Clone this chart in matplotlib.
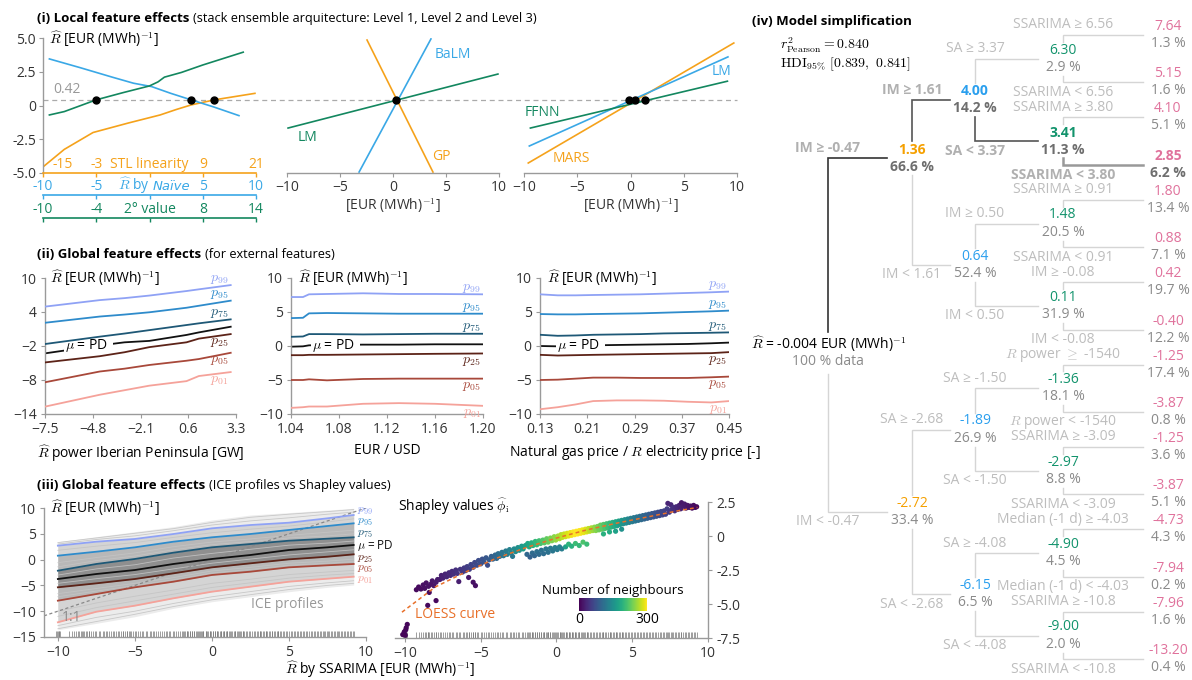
import numpy as np
import matplotlib.pyplot as plt
import matplotlib.transforms as mtransforms
from matplotlib.text import Annotation
from matplotlib.cm import ScalarMappable
from matplotlib.colors import Normalize

plt.rcParams["font.family"] = ["Open Sans", "DejaVu Sans"]
plt.rcParams["mathtext.fontset"] = "cm"
plt.rcParams["font.size"] = 9.5

W, H = 1192, 680
ORANGE, BLUE, GREEN, PINK = "#F5A21B", "#3AA8E6", "#13875F", "#E0729C"
AXC, TXT, LIGHT = "#9a9a9a", "#333333", "#bdbdbd"
UNIT = "$\\widehat{R}$ [EUR (MWh)$^{-1}$]"

# ---------------- (i) local feature effects
base_pred = 0.42
scale_ticks = [-10, -5, 0, 5, 10]
stl_labels = ["-15", "-3", "STL linearity", "9", "21"]
naive_labels = ["-10", "-5", "", "5", "10"]
second_labels = ["-10", "-4", "2° value", "8", "14"]

stl_x = [-10, -8, -5.3, -2.0, 1.0, 2.5, 3.9, 6.1, 9.9]
stl_y = [-4.55, -3.25, -2.0, -1.3, -0.7, -0.3, 0.04, 0.42, 0.9]
naive_x = [-9.4, -6.5, -3.5, -1.5, 0.2, 2.0, 3.9, 6.0, 8.4]
naive_y = [3.45, 2.8, 2.1, 1.65, 1.4, 0.9, 0.42, -0.1, -0.75]
second_x = [-9.4, -8.0, -5.0, -2.5, 0.0, 0.8, 1.4, 3.0, 5.0, 7.0, 8.8]
second_y = [-0.7, -0.45, 0.42, 0.95, 1.45, 1.75, 2.1, 2.45, 3.0, 3.5, 3.95]
level1_cross_x = [-5.0, 3.9, 6.06]

lm2_x, lm2_y = [-9.9, 9.9], [-1.67, 2.33]
balm_x, balm_y = [-3.2, 3.58], [-4.93, 4.93]
gp_x, gp_y = [-2.45, 3.77], [4.85, -4.93]
level2_cross_x = [0.28]

mars_x, mars_y = [-9.6, 9.7], [-4.26, 4.63]
lm3_x, lm3_y = [-9.5, 9.15], [-3.0, 3.6]
ffnn_x, ffnn_y = [-9.4, 9.1], [-1.67, 1.8]
level3_cross_x = [-0.1, 0.45, 1.4]

# ---------------- (ii) global feature effects (rows: p99, p95, p75, p25, p05, p01)
pct_labels = ["$p_{99}$", "$p_{95}$", "$p_{75}$", "$p_{25}$", "$p_{05}$", "$p_{01}$"]
pct_colors = ["#8FA2F5", "#2E8BCB", "#1E5876", "#5C2318", "#A8483A", "#F5A29A"]

iberia_x = [-7.5, -4.4, -3.0, -1.6, 0.5, 1.2, 3.0]
iberia_pct = [
    [4.95, 6.1, 6.45, 6.9, 7.7, 8.0, 8.75],
    [2.1, 3.2, 3.55, 3.95, 4.75, 5.1, 6.0],
    [-1.65, -0.35, 0.2, 0.8, 1.7, 2.0, 2.7],
    [-4.9, -3.8, -3.1, -2.2, -1.35, -0.7, 0.1],
    [-8.4, -6.5, -6.0, -5.35, -4.6, -4.3, -3.2],
    [-12.7, -10.6, -9.8, -9.0, -8.2, -7.3, -6.6],
]
iberia_mu = [-3.3, -1.9, -1.35, -1.1, -0.05, 0.4, 1.4]

fx_x = [1.04, 1.05, 1.055, 1.07, 1.10, 1.13, 1.16, 1.20]
fx_pct = [
    [7.2, 7.2, 7.6, 7.65, 7.75, 7.65, 7.65, 7.6],
    [4.1, 4.15, 4.8, 4.85, 4.8, 4.75, 4.75, 4.75],
    [1.35, 1.4, 1.75, 1.75, 1.7, 1.75, 1.8, 1.8],
    [-1.35, -1.35, -1.3, -1.3, -1.25, -1.2, -1.15, -1.1],
    [-5.0, -5.0, -4.9, -5.05, -4.85, -4.8, -4.8, -4.8],
    [-9.1, -9.0, -8.9, -8.9, -8.5, -8.4, -8.5, -8.8],
]
fx_mu = [-0.1, -0.05, 0.1, 0.15, 0.2, 0.2, 0.25, 0.25]

gas_x = [0.13, 0.16, 0.19, 0.22, 0.26, 0.30, 0.34, 0.38, 0.42, 0.45]
gas_pct = [
    [7.6, 7.45, 7.45, 7.5, 7.55, 7.6, 7.7, 7.8, 7.9, 8.0],
    [4.7, 4.65, 4.65, 4.7, 4.75, 4.8, 4.9, 5.0, 5.1, 5.2],
    [1.65, 1.5, 1.55, 1.65, 1.7, 1.75, 1.85, 1.9, 1.95, 2.0],
    [-1.3, -1.4, -1.35, -1.3, -1.25, -1.2, -1.15, -1.1, -1.05, -0.9],
    [-5.0, -4.95, -4.8, -4.65, -4.65, -4.7, -4.7, -4.7, -4.6, -4.5],
    [-9.3, -9.0, -8.6, -8.1, -8.0, -8.0, -8.05, -8.2, -8.3, -8.1],
]
gas_mu = [0.0, -0.05, 0.0, 0.1, 0.15, 0.2, 0.25, 0.3, 0.4, 0.5]

# ---------------- (iii) ICE profiles vs Shapley values
ssarima_x = [-10, -7.5, -5, -2.5, 0, 2.5, 5, 7.5, 9.2]
ice_hi = [3.47, 4.44, 5.41, 6.38, 7.67, 8.64, 9.1, 9.6, 9.94]
ice_lo = [-13.6, -12.35, -11.06, -9.44, -8.16, -7.19, -6.22, -5.37, -4.92]
ice_lines = [
    [3.3, 4.2, 5.1, 6.0, 7.2, 8.2, 8.8, 9.3, 9.7],
    [3.0, 3.9, 4.6, 5.6, 6.7, 7.5, 8.1, 8.8, 9.2],
    [1.8, 2.6, 3.3, 4.3, 5.2, 5.9, 6.5, 7.3, 7.9],
    [-0.6, 0.4, 1.3, 2.5, 3.4, 4.0, 4.7, 5.3, 5.7],
    [-1.4, -0.2, 0.7, 1.9, 2.9, 3.5, 4.2, 4.6, 5.0],
    [-3.0, -1.8, -1.0, 0.3, 1.2, 2.0, 2.8, 3.2, 3.6],
    [-4.6, -3.7, -2.9, -1.8, -0.7, 0.1, 0.9, 1.5, 1.9],
    [-6.6, -5.6, -4.6, -3.5, -2.2, -1.5, -0.7, -0.3, 0.1],
    [-7.2, -6.1, -5.0, -3.9, -2.6, -1.9, -1.1, -0.7, -0.4],
    [-10.0, -8.4, -7.1, -5.9, -4.6, -3.8, -2.9, -2.4, -2.1],
    [-11.0, -9.3, -8.0, -6.7, -5.4, -4.5, -3.6, -3.0, -2.7],
    [-12.8, -11.2, -10.0, -8.5, -7.2, -6.2, -5.2, -4.5, -4.1],
    [-13.4, -12.0, -10.6, -9.1, -7.8, -6.8, -5.8, -5.0, -4.6],
]
ice_pct = [
    [2.7, 3.47, 4.0, 4.96, 6.06, 6.7, 7.15, 8.0, 8.64],
    [0.76, 1.53, 2.38, 3.47, 4.32, 4.96, 5.74, 6.51, 7.03],
    [-2.15, -0.85, 0.12, 1.34, 2.38, 3.02, 3.66, 4.05, 4.32],
    [-5.37, -4.6, -3.76, -2.66, -1.5, -0.72, 0.05, 0.56, 1.02],
    [-7.96, -6.67, -5.37, -4.28, -2.98, -2.34, -1.5, -1.1, -0.85],
    [-12.15, -10.1, -8.93, -7.5, -6.22, -5.25, -4.28, -3.7, -3.31],
]
ice_mu = [-3.76, -2.79, -2.02, -0.85, 0.12, 0.89, 1.86, 2.38, 2.83]

loess_x = [-10.2, -8, -6, -4, -2, 0, 2, 4, 6, 8, 9.3]
loess_y = [-5.6, -3.75, -2.65, -1.65, -0.85, -0.15, 0.45, 0.95, 1.4, 1.85, 2.1]

shap_x = [
    -10.15, -10.05, -9.98, -9.92, -9.85, -9.95, -8.5, -7.95, -8.4,
    -9.25, -9.1, -8.95, -8.8, -8.7, -8.6, -8.45, -8.3, -8.2, -8.1, -7.95, -7.85,
    -7.7, -7.6, -7.5, -7.35, -7.25, -7.1, -7.0, -6.9, -6.8, -6.65, -6.55, -6.45, -6.35, -6.2, -6.1, -6.0,
    -5.5, -5.35, -5.8,
    -5.9, -5.75, -5.65, -5.5, -5.4, -5.25, -5.15, -5.0, -4.9, -4.8, -4.65, -4.55, -4.45, -4.3, -4.2, -4.05, -3.95,
    -3.85, -3.75, -3.6, -3.5, -3.35, -3.25, -3.1, -3.0, -2.9, -2.8, -2.7, -2.55, -2.45, -2.3, -2.2, -2.05,
    -1.95, -1.75, -1.6, -1.45, -1.3, -1.15, -1.0, -0.85, -0.7, -0.55, -0.4, -0.25, -0.1, 0.05, 0.2, 0.35,
    -1.9, -1.8, -1.65, -1.55, -1.4, -1.3, -1.15, -1.05, -0.9, -0.8, -0.65, -0.55, -0.4, -0.3, -0.15, -0.05,
    0.1, 0.2, 0.3, 0.4, 0.5, 0.6, 0.7, 0.8, 0.9, 1.0, 1.1, 1.2, 1.3, 1.4, 1.5, 1.6, 1.7, 1.8, 1.9, 2.0,
    2.1, 2.2, 2.3, 2.4,
    0.6, 0.8, 1.0, 1.25, 1.5, 1.75, 2.0,
    2.5, 2.6, 2.7, 2.8, 2.9, 3.0, 3.1, 3.2, 3.3, 3.4, 3.5, 3.6, 3.7, 3.8, 3.9, 4.0, 4.1, 4.2, 4.3, 4.4,
    4.5, 4.6, 4.7, 4.8, 4.9, 5.0,
    3.1, 3.5, 3.9, 4.3,
    5.1, 5.2, 5.3, 5.4, 5.5, 5.6, 5.7, 5.8, 5.9, 6.0, 6.1, 6.2, 6.3, 6.4, 6.5, 6.6, 6.7, 6.8, 6.9, 7.0,
    7.1, 7.2, 7.3, 7.35, 7.45, 7.55, 7.6, 7.7, 7.8, 7.9, 8.0, 8.1, 8.2, 8.25, 8.35, 8.45, 8.55, 8.65,
    8.75, 8.85, 8.95, 9.05, 9.15, 9.25,
]
shap_y = [
    -7.25, -7.05, -7.3, -6.75, -6.5, -6.9, -5.1, -4.75, -4.15,
    -3.95, -3.75, -3.9, -3.6, -3.85, -3.45, -3.7, -3.55, -3.3, -3.65, -3.4, -3.2,
    -3.2, -2.9, -3.1, -2.8, -3.0, -2.7, -2.9, -2.6, -2.8, -2.5, -2.75, -3.35, -2.45, -2.65, -2.35, -2.55,
    -3.4, -3.65, -3.05,
    -2.25, -2.45, -2.1, -2.3, -1.95, -2.15, -1.8, -2.05, -1.7, -1.9, -1.6, -2.15, -1.75, -1.5, -1.7, -1.4, -1.65,
    -1.3, -1.5, -1.2, -1.45, -1.1, -1.35, -1.0, -1.25, -1.5, -0.95, -1.15, -0.85, -1.05, -0.75, -0.95, -0.7,
    -1.35, -1.55, -1.25, -1.45, -1.15, -1.35, -1.05, -1.3, -0.95, -1.2, -0.9, -1.1, -0.85, -1.0, -0.8, -0.95,
    -0.55, -0.8, -0.5, -0.7, -0.4, -0.65, -0.35, -0.55, -0.3, -0.5, -0.2, -0.45, -0.15, -0.35, -0.05, -0.3,
    0.0, -0.2, 0.1, -0.1, 0.15, -0.05, 0.2, 0.0, 0.25, 0.05, 0.3, 0.1, 0.35, 0.15, 0.4, 0.2, 0.45, 0.25, 0.5, 0.3,
    0.55, 0.35, 0.6, 0.4,
    -0.8, -0.6, -0.75, -0.55, -0.7, -0.45, -0.6,
    0.65, 0.4, 0.7, 0.45, 0.8, 0.5, 0.85, 0.55, 0.9, 0.6, 0.95, 0.65, 1.0, 0.7, 1.05, 0.75, 1.1, 0.85, 1.15, 0.9,
    1.2, 0.95, 1.25, 1.0, 1.3, 1.05,
    0.15, 0.3, 0.35, 0.5,
    1.35, 1.1, 1.4, 1.15, 1.45, 1.2, 1.5, 1.25, 1.55, 1.3, 1.6, 1.35, 1.65, 1.4, 1.7, 1.45, 1.75, 1.5, 1.8, 1.55,
    1.85, 1.6, 2.0, 2.4, 1.75, 2.3, 1.95, 2.1, 1.85, 2.15, 1.95, 2.25, 2.0, 2.45, 2.2, 2.35, 2.05, 2.25,
    2.1, 2.2, 2.05, 2.25, 2.1, 2.15,
]
shap_n = [
    3, 4, 3, 5, 5, 4, 6, 6, 8,
    8, 9, 10, 12, 12, 14, 15, 16, 18, 17, 20, 22,
    24, 26, 28, 30, 32, 35, 36, 38, 40, 42, 44, 25, 46, 48, 50, 52,
    14, 12, 18,
    55, 57, 60, 62, 64, 67, 70, 72, 76, 78, 82, 70, 86, 90, 94, 98, 100,
    106, 110, 115, 118, 122, 126, 132, 135, 120, 142, 145, 150, 155, 162, 165, 170,
    100, 92, 104, 98, 108, 104, 112, 106, 118, 112, 122, 118, 126, 122, 130, 126,
    178, 182, 188, 192, 198, 202, 208, 212, 218, 222, 228, 232, 238, 242, 248, 252,
    258, 262, 266, 270, 274, 278, 282, 286, 290, 294, 297, 300, 300, 300, 298, 296, 292, 290, 285, 280,
    274, 268, 262, 256,
    170, 195, 190, 205, 200, 215, 205,
    250, 244, 240, 234, 230, 224, 220, 214, 210, 204, 200, 194, 190, 184, 180, 174, 170, 164, 160, 154,
    150, 144, 140, 134, 130, 126,
    190, 185, 170, 150,
    122, 118, 115, 112, 108, 105, 100, 98, 95, 92, 88, 85, 82, 80, 76, 74, 70, 68, 65, 62,
    60, 57, 54, 30, 50, 32, 46, 42, 40, 36, 33, 30, 28, 18, 24, 20, 22, 17,
    16, 14, 12, 10, 8, 6,
]

# ---------------- (iv) surrogate tree
tree_parent = [-1, 0, 0, 1, 1, 2, 2, 3, 3, 4, 4, 5, 5, 6, 6,
               7, 7, 8, 8, 9, 9, 10, 10, 11, 11, 12, 12, 13, 13, 14, 14]
tree_value = [-0.004, 1.36, -2.72, 4.00, 0.64, -1.89, -6.15, 6.30, 3.41, 1.48, 0.11, -1.36, -2.97, -4.90, -9.00,
              7.64, 5.15, 4.10, 2.85, 1.80, 0.88, 0.42, -0.40, -1.25, -3.87, -1.25, -3.87, -4.73, -7.94, -7.96, -13.20]
tree_share = [100, 66.6, 33.4, 14.2, 52.4, 26.9, 6.5, 2.9, 11.3, 20.5, 31.9, 18.1, 8.8, 4.5, 2.0,
              1.3, 1.6, 5.1, 6.2, 13.4, 7.1, 19.7, 12.2, 17.4, 0.8, 3.6, 5.1, 4.3, 0.2, 1.6, 0.4]
tree_rule = ["", "IM ≥ -0.47", "IM < -0.47", "IM ≥ 1.61", "IM < 1.61", "SA ≥ -2.68", "SA < -2.68",
             "SA ≥ 3.37", "SA < 3.37", "IM ≥ 0.50", "IM < 0.50", "SA ≥ -1.50", "SA < -1.50",
             "SA ≥ -4.08", "SA < -4.08",
             "SSARIMA ≥ 6.56", "SSARIMA < 6.56", "SSARIMA ≥ 3.80", "SSARIMA < 3.80",
             "SSARIMA ≥ 0.91", "SSARIMA < 0.91", "IM ≥ -0.08", "IM < -0.08",
             "$R$ power $\\geq$ -1540", "$R$ power < -1540", "SSARIMA ≥ -3.09", "SSARIMA < -3.09",
             "Median (-1 d) ≥ -4.03", "Median (-1 d) < -4.03", "SSARIMA ≥ -10.8", "SSARIMA < -10.8"]
tree_path = [0, 1, 3, 8, 18]
tree_r2 = 0.840
tree_hdi = (0.839, 0.841)


def px_axes(fig, x0, y0, x1, y1):
    return fig.add_axes([x0 / W, 1 - y1 / H, (x1 - x0) / W, (y1 - y0) / H])


def style_axes(ax, left=True, bottom=True, right=False):
    for side in ["top", "right", "left", "bottom"]:
        ax.spines[side].set_color(AXC)
        ax.spines[side].set_linewidth(1.0)
    ax.spines["top"].set_visible(False)
    ax.spines["right"].set_visible(right)
    ax.spines["left"].set_visible(left)
    ax.spines["bottom"].set_visible(bottom)
    ax.tick_params(length=3, width=0.8, color=AXC, labelcolor=TXT, labelsize=10, pad=2)
    ax.patch.set_visible(False)
    if not left and not right:
        ax.set_yticks([])


def panel_title(fig, x, y, bold, rest=""):
    t = fig.text(x / W, 1 - y / H, bold, weight="bold", fontsize=9.5, va="bottom", ha="left")
    if rest:
        fig.add_artist(Annotation(rest, xy=(1, 0), xycoords=t, xytext=(4, 0),
                                  textcoords="offset pixels", va="bottom", ha="left", fontsize=9.2))


def draw_percentiles(ax, x, rows, mu, mu_pos):
    for row, col, lab, up in zip(rows, pct_colors, pct_labels, [1, 1, 1, 0, 0, 0]):
        ax.plot(x, row, color=col, lw=1.3, zorder=4)
        ax.annotate(lab, (x[-1], row[-1]), xytext=(-2, 7 if up else -7), textcoords="offset pixels",
                    ha="right", va="center", color=col, fontsize=10)
    ax.plot(x, mu, color="#111111", lw=1.3, zorder=2)
    ax.text(mu_pos[0], mu_pos[1], "$\\mu$ = PD  ", transform=ax.transAxes, va="center", ha="left",
            fontsize=10, zorder=3, bbox=dict(fc="white", ec="none", pad=0.6))
    ax.text(mu_pos[2], 1.0, UNIT, transform=ax.transAxes, va="center", ha="left", fontsize=10)


fig = plt.figure(figsize=(W / 100, H / 100), dpi=100)

# ======================= (i)
panel_title(fig, 37, 25, "(i) Local feature effects",
            "(stack ensemble arquitecture: Level 1, Level 2 and Level 3)")

ax1 = px_axes(fig, 43, 38, 256, 173)
ax2 = px_axes(fig, 287, 38, 499, 173)
ax3 = px_axes(fig, 524, 38, 737, 173)
for ax in (ax1, ax2, ax3):
    ax.set_xlim(-10, 10)
    ax.set_ylim(-5, 5)
style_axes(ax1)
ax1.spines["bottom"].set_color(ORANGE)
ax1.spines["bottom"].set_linewidth(1.2)
ax1.set_xticks(scale_ticks)
ax1.tick_params(axis="x", colors=ORANGE, labelbottom=False, width=1)
ax1.set_yticks([-5, -2.5, 0, 2.5, 5])
ax1.set_yticklabels(["-5.0", "-2.5", "0", "2.5", "5.0"])
ax1.text(0.028, 0.99, UNIT, transform=ax1.transAxes, va="center", ha="left", fontsize=10)

bl = mtransforms.blended_transform_factory(fig.transFigure, ax1.transData)
ax1.plot([43 / W, 737 / W], [base_pred, base_pred], transform=bl, color="#aaaaaa",
         lw=0.9, ls=(0, (4, 3)), clip_on=False, zorder=1)
ax1.annotate(f"{base_pred:.2f}", (-10, base_pred), xytext=(10, 3), textcoords="offset pixels",
             va="bottom", ha="left", color="#999999", fontsize=10)

ax1.plot(stl_x, stl_y, color=ORANGE, lw=1.2)
ax1.plot(naive_x, naive_y, color=BLUE, lw=1.2)
ax1.plot(second_x, second_y, color=GREEN, lw=1.2)
ax1.plot(level1_cross_x, [base_pred] * len(level1_cross_x), "o", color="black", ms=5, zorder=5)

trans1 = mtransforms.blended_transform_factory(ax1.transData, ax1.transAxes)
naive_mid = None
for yf, col, labels in [(0.0, ORANGE, stl_labels), (-0.163, BLUE, naive_labels),
                        (-0.333, GREEN, second_labels)]:
    if yf != 0.0:
        ax1.plot([scale_ticks[0], scale_ticks[-1]], [yf, yf], color=col, lw=1.2,
                 transform=trans1, clip_on=False)
        ax1.plot(scale_ticks, [yf] * len(scale_ticks), ls="none", marker=3, ms=3, mew=1,
                 color=col, transform=trans1, clip_on=False)
    for i, (xt, lab) in enumerate(zip(scale_ticks, labels)):
        dx = 20 if (col == ORANGE and i == 0) else 0
        ax1.annotate(lab, (xt, yf), xycoords=trans1, xytext=(dx, 5), textcoords="offset pixels",
                     ha="center", va="baseline", color=col, fontsize=10, annotation_clip=False)
    if col == BLUE:
        naive_mid = ax1.annotate("$\\widehat{R}$ by", (scale_ticks[2], yf), xycoords=trans1,
                                 xytext=(-32, 5), textcoords="offset pixels", ha="left",
                                 va="baseline", color=col, fontsize=10, annotation_clip=False)

for ax in (ax2, ax3):
    style_axes(ax, left=False)
    ax.set_xticks(scale_ticks)
    ax.set_xlabel("[EUR (MWh)$^{-1}$]", fontsize=10, labelpad=1, color=TXT)

ax2.plot(lm2_x, lm2_y, color=GREEN, lw=1.2)
ax2.plot(balm_x, balm_y, color=BLUE, lw=1.2)
ax2.plot(gp_x, gp_y, color=ORANGE, lw=1.2)
ax2.plot(level2_cross_x, [base_pred], "o", color="black", ms=5, zorder=5)
ax2.text(3.9, 3.75, "BaLM", color=BLUE, fontsize=10, va="center")
ax2.text(-9.0, -2.35, "LM", color=GREEN, fontsize=10, va="center")
ax2.text(3.7, -3.8, "GP", color=ORANGE, fontsize=10, va="center")

ax3.plot(mars_x, mars_y, color=ORANGE, lw=1.2)
ax3.plot(lm3_x, lm3_y, color=BLUE, lw=1.2)
ax3.plot(ffnn_x, ffnn_y, color=GREEN, lw=1.2)
ax3.plot(level3_cross_x, [base_pred] * len(level3_cross_x), "o", color="black", ms=5, zorder=5)
ax3.text(7.6, 2.5, "LM", color=BLUE, fontsize=10, va="center")
ax3.text(-9.9, -0.55, "FFNN", color=GREEN, fontsize=10, va="center")
ax3.text(-7.3, -3.9, "MARS", color=ORANGE, fontsize=10, va="center")

# ======================= (ii)
panel_title(fig, 37, 261, "(ii) Global feature effects", "(for external features)")
ax4 = px_axes(fig, 45, 278, 236, 414)
ax5 = px_axes(fig, 291, 278, 483, 414)
ax6 = px_axes(fig, 540, 278, 729, 414)
for ax in (ax4, ax5, ax6):
    style_axes(ax)
    ax.tick_params(pad=3)

ax4.set_xlim(-7.5, 3.3)
ax4.set_ylim(-14, 10)
ax4.set_xticks([-7.5, -4.8, -2.1, 0.6, 3.3])
ax4.set_yticks([-14, -8, -2, 4, 10])
ax4.set_xlabel("$\\widehat{R}$ power Iberian Peninsula [GW]", fontsize=10, labelpad=4)
draw_percentiles(ax4, iberia_x, iberia_pct, iberia_mu, (0.105, 0.5, 0.026))

ax5.set_xlim(1.04, 1.20)
ax5.set_ylim(-10, 10)
ax5.set_xticks([1.04, 1.08, 1.12, 1.16, 1.20])
ax5.set_xticklabels(["1.04", "1.08", "1.12", "1.16", "1.20"])
ax5.set_yticks([-10, -5, 0, 5, 10])
ax5.set_xlabel("EUR / USD", fontsize=10, labelpad=4)
draw_percentiles(ax5, fx_x, fx_pct, fx_mu, (0.11, 0.507, 0.036))

ax6.set_xlim(0.13, 0.45)
ax6.set_ylim(-10, 10)
ax6.set_xticks([0.13, 0.21, 0.29, 0.37, 0.45])
ax6.set_yticks([-10, -5, 0, 5, 10])
ax6.set_xlabel("Natural gas price / $R$ electricity price [-]", fontsize=10, labelpad=4)
draw_percentiles(ax6, gas_x, gas_pct, gas_mu, (0.09, 0.507, 0.037))

# ======================= (iii)
panel_title(fig, 37, 492, "(iii) Global feature effects", "(ICE profiles vs Shapley values)")
ax7 = px_axes(fig, 44, 508, 366, 637)
ax8 = px_axes(fig, 395, 502, 708, 638)
style_axes(ax7)
ax7.set_xlim(-10.9, 10)
ax7.set_ylim(-15, 10)
ax7.set_xticks([-10, -5, 0, 5, 10])
ax7.set_yticks([-15, -10, -5, 0, 5, 10])
ax7.tick_params(pad=3)
for lo, hi, col in [(ice_lo, ice_hi, "#ececec"), (ice_pct[5], ice_pct[0], "#d4d4d4"),
                    (ice_pct[4], ice_pct[1], "#b8b8b8"), (ice_pct[3], ice_pct[2], "#8f8f8f")]:
    ax7.fill_between(ssarima_x, lo, hi, color=col, lw=0, zorder=1)
for line in ice_lines:
    ax7.plot(ssarima_x, line, color="#c4c4c4", lw=0.6, alpha=0.9, zorder=1.5)
ax7.axline((0, 0), slope=1, color="#888888", lw=0.9, ls=(0, (2.5, 2)), zorder=2)
label_dy = [5, 2, 4, -4, -5, -3]
for row, col, lab, dy in zip(ice_pct, pct_colors, pct_labels, label_dy):
    ax7.plot(ssarima_x, row, color=col, lw=1.3, zorder=4)
    ax7.annotate(lab, (ssarima_x[-1], row[-1]), xytext=(3, dy), textcoords="offset pixels",
                 ha="left", va="center", color=col, fontsize=8.5, annotation_clip=False)
ax7.plot(ssarima_x, ice_mu, color="#111111", lw=1.3, zorder=4)
ax7.annotate("$\\mu$ = PD", (ssarima_x[-1], ice_mu[-1]), xytext=(3, -1), textcoords="offset pixels",
             ha="left", va="center", color="#111111", fontsize=8.5, annotation_clip=False)
ax7.vlines(shap_x, 0, 0.045, transform=ax7.get_xaxis_transform(), color="#777777", lw=0.5)
ax7.text(0.019, 1.0, UNIT, transform=ax7.transAxes, va="center", ha="left", fontsize=10)
ax7.text(0.755, 0.25, "ICE profiles", transform=ax7.transAxes, ha="center", va="center",
         color="#999999", fontsize=10, zorder=5)
ax7.text(0.056, 0.155, "1:1", transform=ax7.transAxes, ha="left", va="center",
         color="#8a8a8a", fontsize=10, zorder=5)

style_axes(ax8, left=False, right=True)
ax8.yaxis.tick_right()
ax8.set_xlim(-10.66, 10)
ax8.set_ylim(-7.5, 2.5)
ax8.set_xticks([-10, -5, 0, 5, 10])
ax8.set_yticks([-7.5, -5, -2.5, 0, 2.5])
ax8.set_yticklabels(["-7.5", "-5.0", "-2.5", "0", "2.5"])
ax8.tick_params(pad=3)
ax8.scatter(shap_x, shap_y, c=shap_n, cmap="viridis", vmin=0, vmax=300, s=14, lw=0,
            zorder=3, clip_on=False)
ax8.plot(loess_x, loess_y, color="#E8702A", lw=1.1, ls=(0, (2.5, 2)), zorder=4)
ax8.vlines(shap_x, 0, 0.045, transform=ax8.get_xaxis_transform(), color="#777777", lw=0.5)
ax8.text(0.01, 0.963, "Shapley values $\\widehat{\\phi}_{\\rm i}$", transform=ax8.transAxes,
         ha="left", va="center", fontsize=10)
ax8.text(0.064, 0.176, "LOESS curve", transform=ax8.transAxes, ha="left", va="center",
         color="#E8702A", fontsize=10)
fig.text(380 / W, 1 - 670 / H, "$\\widehat{R}$ by SSARIMA [EUR (MWh)$^{-1}$]", ha="center",
         va="center", fontsize=10)

cax = px_axes(fig, 579, 598, 647, 611)
cb = fig.colorbar(ScalarMappable(Normalize(0, 300), "viridis"), cax=cax, orientation="horizontal")
cb.outline.set_visible(False)
cb.set_ticks([0, 300])
cax.tick_params(length=0, labelsize=10, pad=1)
cax.set_title("Number of neighbours", fontsize=9.5, pad=3)

# ======================= (iv)
panel_title(fig, 752, 28, "(iv) Model simplification")
axt = px_axes(fig, 745, 0, 1192, 680)
axt.set_xlim(745, 1192)
axt.set_ylim(680, 0)
axt.axis("off")
axt.text(780, 45, "$r^2_{\\mathrm{Pearson}} = %.3f$" % tree_r2, ha="left", va="center", fontsize=10)
axt.text(780, 64, "$\\mathrm{HDI}_{95\\%%}\\ [%.3f,\\ %.3f]$" % tree_hdi, ha="left", va="center",
         fontsize=10)

COL_X = [828, 912, 975, 1063, 1168]
LEAF_TOP, PAIR_STEP, SIB_STEP = 35, 82.4, 47.4
n_nodes = len(tree_parent)
depth = [0] * n_nodes
for i in range(1, n_nodes):
    depth[i] = depth[tree_parent[i]] + 1
children = {i: [j for j in range(n_nodes) if tree_parent[j] == i] for i in range(n_nodes)}
leaves = [i for i in range(n_nodes) if not children[i]]
ny = {}
for k, i in enumerate(leaves):
    ny[i] = LEAF_TOP + (k // 2) * PAIR_STEP + (k % 2) * SIB_STEP
for i in reversed(range(n_nodes)):
    if children[i]:
        ny[i] = np.mean([ny[c] for c in children[i]])
ny[1] -= 24
ny[0] = 353

value_colors = ["black", "#F5A000", "#2A9FEE", "#12936C", PINK]
path_edge = {1: ("#333333", 1.2), 3: ("#555555", 1.2), 8: ("#555555", 1.2), 18: ("#999999", 1.8)}
for c in range(1, n_nodes):
    p = tree_parent[c]
    xp = COL_X[depth[p]]
    yc = ny[c]
    up = yc < ny[p]
    gap = 21 if p == 0 else 17
    y0 = ny[p] - gap if up else ny[p] + gap
    col, lw = path_edge.get(c, ("#d5d5d5", 1.0))
    axt.plot([xp, xp, COL_X[depth[c]] - 25], [y0, yc, yc], color=col, lw=lw, solid_joinstyle="miter")
    axt.text(xp, yc - 10 if up else yc + 10, tree_rule[c], ha="center", va="center", fontsize=10,
             color="#b0b0b0" if c in tree_path else LIGHT,
             weight="bold" if c in tree_path else "normal")

for i in range(1, n_nodes):
    bold = "bold" if i in tree_path else "normal"
    axt.text(COL_X[depth[i]], ny[i] - 8.5, f"{tree_value[i]:.2f}", ha="center", va="center",
             fontsize=10, color=value_colors[depth[i]], weight=bold)
    axt.text(COL_X[depth[i]], ny[i] + 8.5, f"{tree_share[i]:.1f} %", ha="center", va="center",
             fontsize=10, color="#6e6e6e" if i in tree_path else "#8a8a8a", weight=bold)
axt.text(COL_X[0] + 1, ny[0] - 8.5, f"$\\widehat{{R}}$ = {tree_value[0]:.3f} EUR (MWh)$^{{-1}}$",
         ha="center", va="center", fontsize=10)
axt.text(COL_X[0], ny[0] + 8.5, f"{tree_share[0]} % data", ha="center", va="center", fontsize=10,
         color="#8a8a8a")

# italic "Naive" next to the R-hat label of the second scale
fig.canvas.draw()
w_mid = naive_mid.get_window_extent().width
ax1.annotate("Naïve", (scale_ticks[2], -0.163), xycoords=trans1, xytext=(-32 + w_mid + 4, 5),
             textcoords="offset pixels", ha="left", va="baseline", color=BLUE, fontsize=9.5,
             family="DejaVu Sans", style="oblique", annotation_clip=False)

fig.savefig("out.png", dpi=100)
